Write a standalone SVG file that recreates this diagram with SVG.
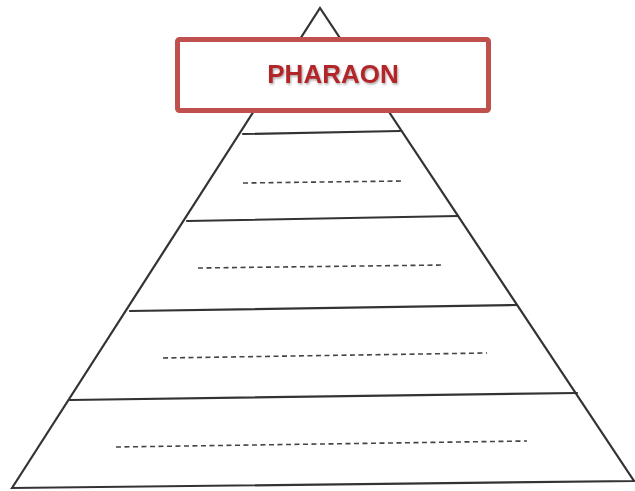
<svg xmlns="http://www.w3.org/2000/svg" width="635" height="491" viewBox="0 0 635 491">
  <style>
    .edge { stroke: #333333; stroke-width: 2.2; fill: none; stroke-linecap: round; }
    .dash { stroke: #444; stroke-width: 1.6; stroke-dasharray: 5 3.5; fill: none; }
    .title { font-family: "Liberation Sans", Arial, sans-serif; font-weight: bold; font-size: 26px; fill: #b2282c; }
  </style>
  <defs>
    <filter id="shadow" x="-10%" y="-30%" width="120%" height="160%">
      <feDropShadow dx="1" dy="1.5" stdDeviation="1" flood-color="#000" flood-opacity="0.35"/>
    </filter>
  </defs>
  <rect width="635" height="491" fill="#ffffff"/>
  <g id="pyramid">
    <path class="edge" d="M12,488 L320,8 L634,481 Z"/>
  </g>
  <g id="connectors">
    <line class="edge" x1="243" y1="134" x2="400" y2="131"/>
    <line class="edge" x1="187" y1="221" x2="458" y2="216"/>
    <line class="edge" x1="130" y1="311" x2="517" y2="305"/>
    <line class="edge" x1="70" y1="400" x2="577" y2="393"/>
    <line class="dash" x1="243" y1="183" x2="402" y2="181"/>
    <line class="dash" x1="198" y1="268" x2="444" y2="265"/>
    <line class="dash" x1="163" y1="358" x2="487" y2="353"/>
    <line class="dash" x1="116" y1="447" x2="527" y2="441"/>
  </g>
  <g id="pharaon">
    <rect x="177.5" y="39.5" width="311" height="71" rx="2" fill="#ffffff" stroke="#c0504d" stroke-width="5"/>
    <text class="title" x="333" y="83" text-anchor="middle" filter="url(#shadow)">PHARAON</text>
  </g>
</svg>
